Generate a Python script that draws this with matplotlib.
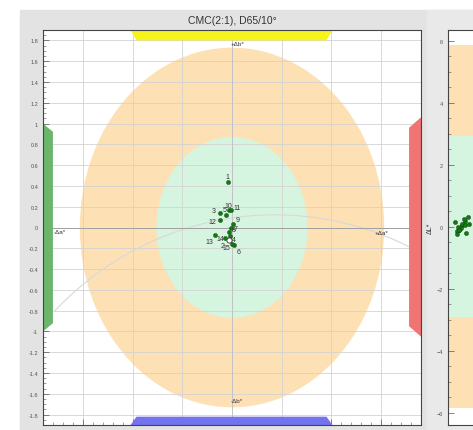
import numpy as np
import matplotlib.pyplot as plt
from matplotlib.patches import Ellipse, Polygon, Rectangle
from matplotlib.ticker import MultipleLocator, FuncFormatter

plt.rcParams['font.family'] = ['Liberation Sans', 'DejaVu Sans']

# sample labels and colour differences
labels = ['1', '2', '3', '4', '5', '6', '7', '8', '9', '10', '11', '12', '13', '14', '15']
da = [-0.045, -0.035, -0.125, -0.02, -0.065, 0.025, -0.01, -0.035, 0.01,
      -0.035, -0.01, -0.12, -0.17, -0.07, -0.005]
db = [0.433, -0.12, 0.135, -0.077, 0.125, -0.173, 0.0, -0.043, 0.038,
      0.168, 0.168, 0.072, -0.072, -0.101, -0.163]
dL = [0.15, -0.1, 0.05, 0.2, -0.15, 0.1, -0.05, 0.25, 0.0,
      -0.2, 0.1, -0.1, 0.3, -0.25, 0.05]
dL_x = [0.05, 0.08, 0.1, 0.12, 0.06, 0.15, 0.09, 0.11, 0.07,
        0.13, 0.1, 0.08, 0.14, 0.06, 0.12]
# label offsets in pixels
label_off = [(0, 6), (-6, -6), (-6, 3), (4, -4), (-1, 5), (4, -6), (5, -1), (5, 2), (5, 4),
             (0, 5), (6, 3), (-8, -1), (-6, -7), (-5, -1), (-5, -3)]

# tolerance ellipses (half axes: da, db)
outer_tol = (1.53, 1.73)
inner_tol = (0.76, 0.87)
L_outer = 5.85
L_inner = 2.92

# faint chroma arc through three points
arc_pts = [(-1.78, -0.8), (-0.76, -0.115), (1.79, -0.19)]

W, H = 473, 431
fig = plt.figure(figsize=(W / 100, H / 100), dpi=100)
fig.patches.append(Rectangle((20 / W, 0), 1, (H - 11) / H, transform=fig.transFigure,
                             color='#e3e3e3', zorder=-10))
fig.patches.append(Rectangle((427 / W, 0), 1, (H - 11) / H, transform=fig.transFigure,
                             color='#e9e9e9', zorder=-9))

ax = fig.add_axes([43 / W, 5 / H, 378 / W, 395 / H])
ax.set_xlim(-1.9, 1.9)
ax.set_ylim(-1.9, 1.9)

ax.add_patch(Ellipse((0, 0), 2 * outer_tol[0], 2 * outer_tol[1], color='#fde0b4', zorder=0.5, lw=0))
ax.add_patch(Ellipse((0, 0), 2 * inner_tol[0], 2 * inner_tol[1], color='#d6f5e0', zorder=0.6, lw=0))

# hue direction bars along the frame
bev = 0.06
ax.add_patch(Polygon([(-1.02, 1.9), (1.01, 1.9), (1.01 - bev, 1.8), (-1.02 + bev, 1.8)],
                     color='#f6f41c', lw=0, zorder=2))
ax.add_patch(Polygon([(-1.02, -1.9), (1.01, -1.9), (1.01 - bev, -1.82), (-1.02 + bev, -1.82)],
                     color='#7373ee', lw=0, zorder=2))
ax.add_patch(Polygon([(-1.9, 1.0), (-1.9, -1.0), (-1.8, -0.92), (-1.8, 0.92)],
                     color='#6cb56c', lw=0, zorder=2))
ax.add_patch(Polygon([(1.9, 1.06), (1.9, -1.05), (1.78, -0.95), (1.78, 0.96)],
                     color='#f07474', lw=0, zorder=2))

pa, pb, pc = (np.array(p) for p in arc_pts)
A = 2 * np.array([pb - pa, pc - pa])
rhs = np.array([pb @ pb - pa @ pa, pc @ pc - pa @ pa])
cen = np.linalg.solve(A, rhs)
R = np.linalg.norm(pa - cen)
a0 = np.arctan2(*(pa - cen)[::-1])
a1 = np.arctan2(*(pc - cen)[::-1])
ang = np.linspace(a0, a1, 200)
ax.plot(cen[0] + R * np.cos(ang), cen[1] + R * np.sin(ang), color='#d8d8d8', lw=0.8, zorder=1.6)

ax.axhline(0, color='#a0a0a0', lw=0.7, zorder=1.7)
ax.axvline(0, color='#c0c0c0', lw=0.6, zorder=1.7)

ax.text(-0.01, 1.77, '+Δb*', fontsize=4.5, color='#333333', va='center', zorder=3)
ax.text(-0.01, -1.66, '-Δb*', fontsize=4.5, color='#333333', va='center', zorder=3)
ax.text(-1.79, -0.04, '-Δa*', fontsize=4.5, color='#333333', va='center', zorder=3)
ax.text(1.43, -0.05, '+Δa*', fontsize=4.5, color='#333333', va='center', zorder=3)

ax.scatter(da, db, s=9, color='#137a13', edgecolors='#0b4f0b', linewidths=0.3, zorder=4)
ax.scatter([da[1]], [db[1]], s=14, facecolors='white', edgecolors='#333333', linewidths=0.6, zorder=5)
for lab, x, y, (ox, oy) in zip(labels, da, db, label_off):
    ax.annotate(lab, (x, y), xytext=(ox, oy), textcoords='offset pixels', fontsize=5,
                color='#333333', ha='center', va='center', zorder=6)

ax.set_title('CMC(2:1), D65/10°', fontsize=7.5, color='#333333', pad=5)
ax.xaxis.set_major_locator(MultipleLocator(0.5))
ax.xaxis.set_minor_locator(MultipleLocator(0.1))
ax.yaxis.set_major_locator(MultipleLocator(0.2))
ax.yaxis.set_minor_locator(MultipleLocator(0.05))
ax.yaxis.set_major_formatter(FuncFormatter(lambda v, p: '%g' % round(v, 2)))
ax.tick_params(which='both', direction='in', labelsize=4, colors='#555555')
ax.tick_params(which='major', length=4, width=0.5)
ax.tick_params(which='minor', length=2, width=0.4)
ax.grid(True, which='major', color='#d3d3d3', lw=0.6)
for s in ax.spines.values():
    s.set_color('#444444')
    s.set_linewidth(0.8)

# lightness panel (cut by the image edge)
ax2 = fig.add_axes([448 / W, 5 / H, 0.3, 395 / H])
ax2.set_xlim(0, 1)
ax2.set_ylim(-6.4, 6.35)
ax2.axhspan(-L_outer, L_outer, color='#fde0b4', lw=0, zorder=0.5)
ax2.axhspan(-L_inner, L_inner, color='#d6f5e0', lw=0, zorder=0.6)
ax2.scatter(dL_x, dL, s=9, color='#137a13', edgecolors='#0b3d0b', linewidths=0.3, zorder=4)
ax2.yaxis.set_major_locator(MultipleLocator(2))
ax2.yaxis.set_minor_locator(MultipleLocator(0.5))
ax2.set_xticks([])
ax2.tick_params(which='both', direction='in', labelsize=4, colors='#555555')
ax2.tick_params(which='major', length=4, width=0.5)
ax2.tick_params(which='minor', length=2, width=0.4)
ax2.set_ylabel('ΔL*', fontsize=5, color='#333333', labelpad=2)
for s in ax2.spines.values():
    s.set_color('#444444')
    s.set_linewidth(0.8)

fig.savefig('out.png', dpi=100)
